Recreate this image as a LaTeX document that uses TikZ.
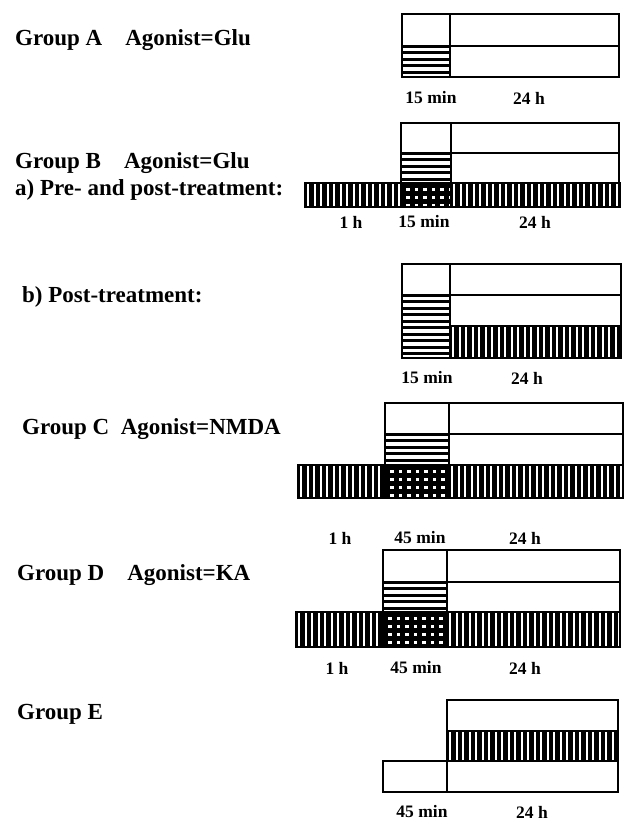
\documentclass[tikz,border=0pt]{standalone}
\usepackage{fontspec}
\setmainfont{Liberation Serif}

% Streifen und Gitter
\newcommand{\hstripes}[4]{%
  \begin{scope}\clip (#1,#2) rectangle (#3,#4);
    \foreach \yy in {0,6.5,...,80} \draw[line width=3pt] (#1,#2+\yy) -- (#3,#2+\yy);
  \end{scope}}
\newcommand{\vstripes}[4]{%
  \begin{scope}\clip (#1,#2) rectangle (#3,#4);
    \foreach \xx in {0,6.5,...,340} \draw[line width=4.4pt] (#1+\xx,#2) -- (#1+\xx,#4);
  \end{scope}}
\newcommand{\crossgrid}[4]{%
  \begin{scope}\clip (#1,#2) rectangle (#3,#4);
    \fill (#1,#2) rectangle (#3,#4);
    \foreach \xx in {5,13.5,...,70} \foreach \yy in {5,13,...,40}
      \fill[white] (#1+\xx,#2+\yy) rectangle ++(3.6,3);
  \end{scope}}

\begin{document}
\begin{tikzpicture}[x=1pt,y=-1pt,
  outline/.style={line width=2.8pt},
  heading/.style={anchor=west,inner sep=0pt,font=\fontsize{23}{27}\selectfont\bfseries},
  timelabel/.style={inner sep=0pt,font=\fontsize{17.5}{20}\selectfont\bfseries}]
  \useasboundingbox (0,0) rectangle (630,825);
  % Group A
  \node[heading] (ga) at (15,40) {Group A\hspace{1em}Agonist=Glu};
  \hstripes{402}{46}{450}{77}
  \draw[outline] (402,14) rectangle (619,77) (450,14) -- (450,77) (402,46) -- (619,46);
  \node[timelabel] (ga15) at (431,98) {15 min};
  \node[timelabel] (ga24) at (529,98) {24 h};
  % Group B, a)
  \node[heading] (gb) at (15,163) {Group B\hspace{1em}Agonist=Glu};
  \node[heading] (gba) at (15,190) {a) Pre- and post-treatment:};
  \hstripes{401}{153}{451}{183}
  \vstripes{305}{183}{401}{207}
  \vstripes{451}{183}{620}{207}
  \crossgrid{401}{183}{451}{207}
  \draw[outline] (401,123) rectangle (619,183) (451,123) -- (451,183) (401,153) -- (619,153);
  \draw[outline] (305,183) rectangle (620,207) (401,183) -- (401,207) (451,183) -- (451,207);
  \node[timelabel] (gba1) at (351,222) {1 h};
  \node[timelabel] (gba15) at (424,222) {15 min};
  \node[timelabel] (gba24) at (535,222) {24 h};
  % Group B, b)
  \node[heading] (gbb) at (22,297) {b) Post-treatment:};
  \hstripes{402}{295}{450}{358}
  \vstripes{450}{326}{621}{358}
  \draw[outline] (402,264) rectangle (621,358) (450,264) -- (450,358) (402,295) -- (621,295) (450,326) -- (621,326);
  \node[timelabel] (gbb15) at (427,378) {15 min};
  \node[timelabel] (gbb24) at (527,378) {24 h};
  % Group C
  \node[heading] (gc) at (22,429) {Group C\hspace{0.5em}Agonist=NMDA};
  \hstripes{385}{434}{449}{465}
  \vstripes{298}{465}{385}{498}
  \vstripes{449}{465}{623}{498}
  \crossgrid{385}{465}{449}{498}
  \draw[outline] (385,403) rectangle (623,465) (449,403) -- (449,465) (385,434) -- (623,434);
  \draw[outline] (298,465) rectangle (623,498) (385,465) -- (385,498) (449,465) -- (449,498);
  \node[timelabel] (gc1) at (340,538) {1 h};
  \node[timelabel] (gc45) at (420,538) {45 min};
  \node[timelabel] (gc24) at (525,538) {24 h};
  % Group D
  \node[heading] (gd) at (17,575) {Group D\hspace{1em}Agonist=KA};
  \hstripes{383}{582}{447}{612}
  \vstripes{296}{612}{383}{647}
  \vstripes{447}{612}{620}{647}
  \crossgrid{383}{612}{447}{647}
  \draw[outline] (383,550) rectangle (620,612) (447,550) -- (447,612) (383,582) -- (620,582);
  \draw[outline] (296,612) rectangle (620,647) (383,612) -- (383,647) (447,612) -- (447,647);
  \node[timelabel] (gd1) at (337,668) {1 h};
  \node[timelabel] (gd45) at (416,668) {45 min};
  \node[timelabel] (gd24) at (525,668) {24 h};
  % Group E
  \node[heading] (ge) at (17,714) {Group E};
  \vstripes{447}{731}{618}{761}
  \draw[outline] (447,700) rectangle (618,792) (447,731) -- (618,731) (447,761) -- (618,761);
  \draw[outline] (383,761) rectangle (447,792);
  \node[timelabel] (ge45) at (422,812) {45 min};
  \node[timelabel] (ge24) at (532,812) {24 h};
\end{tikzpicture}
\end{document}
